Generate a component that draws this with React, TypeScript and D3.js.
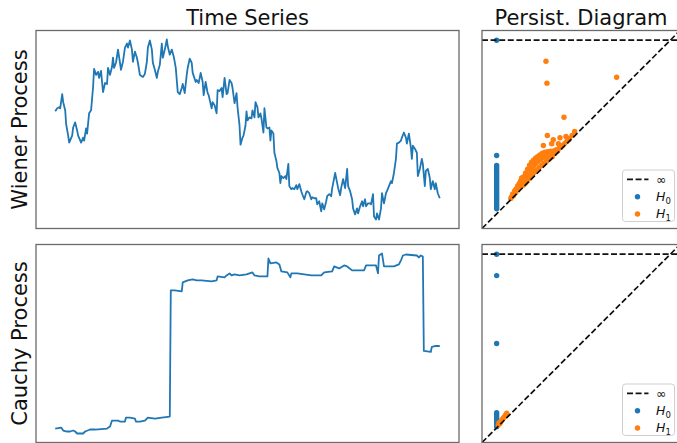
import React from "react";
import * as d3 from "d3";

const WIDTH = 677;
const HEIGHT = 443;
const BLUE = "#1f77b4";
const ORANGE = "#ff7f0e";
const FONT = "DejaVu Sans, Liberation Sans, sans-serif";

const ROW_LABELS = ["Wiener Process", "Cauchy Process"];
const COL_TITLES = ["Time Series", "Persist. Diagram"];

// Wiener process path: [step, value]
const WIENER: [number, number][] = [
  [0, 0], [2, 3], [4, 4], [5, 3], [7, 17], [8, 9], [10, 1], [11, -13], [13, -24], [14, -31],
  [17, -24], [18, -16], [20, -11], [22, -19], [23, -24], [26, -31], [28, -26], [29, -29], [31, -17], [32, -22],
  [34, -2], [36, 1], [38, 24], [39, 42], [41, 36], [43, 39], [44, 33], [46, 40], [47, 29], [48, 19],
  [50, 28], [52, 27], [53, 43], [55, 36], [57, 44], [58, 53], [59, 43], [61, 48], [63, 61], [65, 48],
  [66, 41], [68, 49], [70, 63], [72, 67], [73, 63], [75, 70], [77, 61], [78, 49], [80, 59], [82, 53],
  [83, 48], [85, 36], [88, 34], [90, 37], [92, 49], [93, 63], [95, 70], [97, 61], [98, 48], [100, 41],
  [102, 33], [103, 39], [105, 46], [107, 67], [108, 53], [110, 61], [112, 71], [113, 64], [115, 56], [117, 61],
  [119, 54], [121, 43], [123, 19], [125, 17], [127, 23], [128, 27], [130, 18], [132, 36], [133, 43], [135, 52],
  [137, 48], [138, 38], [141, 29], [142, 31], [144, 28], [146, 38], [148, 29], [149, 16], [151, 29], [153, 18],
  [154, 16], [157, 3], [158, 9], [160, 6], [162, -2], [163, 21], [165, 20], [167, 23], [168, 14], [170, 33],
  [172, 17], [173, 18], [175, 31], [177, 28], [178, 23], [180, 8], [182, 18], [183, 4], [185, -14], [186, -33],
  [188, -26], [189, -24], [191, -14], [192, 0], [193, -9], [195, -6], [197, -7], [198, 1], [200, -6], [201, 9],
  [203, 4], [204, -6], [206, -2], [207, -7], [209, -21], [210, 3], [212, -16], [213, -17], [215, -16], [216, -29],
  [217, -19], [219, -22], [220, -41], [222, -49], [223, -56], [225, -61], [226, -71], [227, -64], [229, -66], [231, -64],
  [232, -67], [234, -52], [235, -74], [237, -77], [238, -76], [240, -77], [242, -73], [243, -77], [245, -72], [247, -79],
  [248, -82], [250, -87], [252, -80], [253, -79], [255, -81], [257, -87], [258, -85], [260, -86], [262, -86], [263, -92],
  [265, -89], [267, -99], [268, -91], [270, -97], [272, -89], [273, -84], [275, -82], [277, -84], [278, -76], [279, -71],
  [281, -61], [283, -71], [284, -76], [286, -83], [287, -76], [289, -67], [291, -76], [293, -57], [294, -74], [296, -79],
  [298, -87], [299, -96], [301, -102], [303, -96], [304, -101], [306, -94], [308, -89], [309, -94], [311, -87], [312, -94],
  [314, -91], [316, -91], [317, -92], [319, -82], [320, -104], [322, -107], [323, -101], [325, -107], [327, -96], [328, -81],
  [330, -91], [332, -81], [333, -79], [335, -74], [337, -69], [338, -71], [340, -61], [342, -47], [343, -32], [345, -31],
  [347, -29], [348, -26], [350, -21], [352, -26], [353, -32], [355, -22], [357, -36], [358, -47], [359, -34], [361, -37],
  [363, -41], [364, -64], [366, -57], [368, -47], [369, -52], [371, -74], [372, -59], [374, -57], [376, -66], [377, -77],
  [379, -69], [381, -77], [382, -71], [384, -81], [386, -86],
];

// Cauchy process path: [step, value]
const CAUCHY: [number, number][] = [
  [0, 0], [6, 1], [8, -2], [12, -3], [15, -3], [18, -2], [20, -3], [22, -5], [28, -5], [30, -3],
  [35, -1], [40, -1], [52, 0], [55, 2], [57, 8], [63, 8], [65, 7], [70, 7], [71, 11], [75, 11],
  [80, 10], [81, 7], [85, 7], [90, 8], [93, 11], [100, 10], [107, 11], [115, 12], [116, 139], [120, 139],
  [127, 138], [128, 147], [133, 149], [138, 150], [142, 149], [147, 149], [157, 148], [162, 149], [163, 153], [170, 152],
  [172, 154], [175, 156], [177, 154], [180, 155], [185, 154], [192, 155], [198, 157], [200, 154], [205, 153], [210, 153],
  [213, 153], [214, 171], [216, 166], [222, 167], [225, 165], [227, 158], [233, 157], [236, 152], [237, 156], [243, 156],
  [257, 154], [267, 154], [270, 157], [278, 158], [280, 163], [285, 161], [290, 164], [293, 163], [298, 159], [305, 159],
  [310, 159], [312, 164], [322, 164], [324, 156], [325, 174], [328, 176], [330, 163], [340, 163], [345, 165], [347, 169],
  [349, 174], [352, 175], [363, 174], [365, 172], [367, 174], [369, 173], [370, 78], [377, 77], [378, 82], [382, 83],
  [386, 83],
];

// Persistence diagrams (birth, death), normalised filtration values
const INF_LEVEL = 0.951;

const WIENER_H0: [number, number][] = [
  [0.074, Infinity], [0.074, 0.369], [0.074, 0.318], [0.074, 0.31], [0.074, 0.3], [0.074, 0.29],
  [0.074, 0.28], [0.074, 0.27], [0.074, 0.26], [0.074, 0.25], [0.074, 0.24], [0.074, 0.23],
  [0.074, 0.22], [0.074, 0.21], [0.074, 0.2], [0.074, 0.19], [0.074, 0.18], [0.074, 0.17],
  [0.074, 0.16], [0.074, 0.15], [0.074, 0.14], [0.074, 0.13], [0.074, 0.12], [0.074, 0.11], [0.074, 0.1],
];

const WIENER_H1: [number, number][] = [
  [0.323, 0.845], [0.328, 0.734], [0.68, 0.764], [0.414, 0.562], [0.468, 0.49], [0.33, 0.47],
  [0.394, 0.458], [0.36, 0.448], [0.424, 0.465], [0.386, 0.428], [0.31, 0.419], [0.352, 0.428],
  [0.402, 0.418], [0.44, 0.455], [0.455, 0.47],
  [0.145, 0.152], [0.15, 0.16], [0.155, 0.175], [0.158, 0.165], [0.16, 0.17], [0.165, 0.19], [0.17, 0.182],
  [0.172, 0.2], [0.178, 0.195], [0.18, 0.215], [0.185, 0.205], [0.188, 0.228], [0.192, 0.212],
  [0.195, 0.24], [0.198, 0.222], [0.2, 0.255], [0.204, 0.235], [0.208, 0.218], [0.21, 0.262],
  [0.214, 0.245], [0.218, 0.228], [0.22, 0.28], [0.224, 0.258], [0.228, 0.24], [0.23, 0.3],
  [0.234, 0.272], [0.238, 0.252], [0.24, 0.32], [0.242, 0.29], [0.246, 0.262], [0.25, 0.335],
  [0.252, 0.305], [0.256, 0.275], [0.26, 0.345], [0.262, 0.318], [0.266, 0.285], [0.27, 0.355],
  [0.272, 0.33], [0.276, 0.296], [0.28, 0.362], [0.284, 0.34], [0.288, 0.308], [0.292, 0.372],
  [0.296, 0.35], [0.3, 0.318], [0.305, 0.38], [0.308, 0.358], [0.312, 0.33], [0.318, 0.385],
  [0.322, 0.365], [0.326, 0.34], [0.332, 0.388], [0.336, 0.372], [0.34, 0.352], [0.346, 0.39],
  [0.35, 0.375], [0.355, 0.362], [0.362, 0.392], [0.368, 0.38], [0.375, 0.398], [0.382, 0.392],
  [0.39, 0.405], [0.398, 0.41], [0.408, 0.42], [0.418, 0.43], [0.428, 0.44], [0.438, 0.448],
];

const CAUCHY_H0: [number, number][] = [
  [0.074, Infinity], [0.074, 0.843], [0.074, 0.5], [0.074, 0.15], [0.074, 0.14], [0.074, 0.13],
  [0.074, 0.12], [0.074, 0.11], [0.074, 0.1], [0.074, 0.09], [0.074, 0.08],
];

const CAUCHY_H1: [number, number][] = [
  [0.082, 0.088], [0.086, 0.1], [0.09, 0.096], [0.095, 0.105], [0.1, 0.112], [0.105, 0.12],
  [0.11, 0.126], [0.115, 0.132], [0.12, 0.14], [0.125, 0.148],
];

const LEGEND_LABELS = ["∞", "H", "H"];

// Layout
const TS_X0 = 36;
const TS_X1 = 459;
const PD_X0 = 482;
const SIZE = 198;
const ROW_Y0 = [30.5, 244.5];
const DASH = "6 2.6";

function padded(vals: number[]): [number, number] {
  const [lo, hi] = d3.extent(vals) as [number, number];
  const p = (hi - lo) * 0.05;
  return [lo - p, hi + p];
}

function TimeSeries({ data, y0, id }: { data: [number, number][]; y0: number; id: string }) {
  const x = d3.scaleLinear().domain(padded(data.map((d) => d[0]))).range([TS_X0, TS_X1]);
  const y = d3.scaleLinear().domain(padded(data.map((d) => d[1]))).range([y0 + SIZE, y0]);
  const line = d3.line<[number, number]>().x((d) => x(d[0])).y((d) => y(d[1]));
  return (
    <g>
      <clipPath id={id}>
        <rect x={TS_X0} y={y0} width={TS_X1 - TS_X0} height={SIZE} />
      </clipPath>
      <path d={line(data) || ""} fill="none" stroke={BLUE} strokeWidth={1.8} strokeLinejoin="round" clipPath={`url(#${id})`} />
      <rect x={TS_X0} y={y0} width={TS_X1 - TS_X0} height={SIZE} fill="none" stroke="#6a6a6a" strokeWidth={1.3} />
    </g>
  );
}

function Diagram({ h0, h1, y0, id }: { h0: [number, number][]; h1: [number, number][]; y0: number; id: string }) {
  const x = d3.scaleLinear().domain([0, 1]).range([PD_X0, PD_X0 + SIZE]);
  const y = d3.scaleLinear().domain([0, 1]).range([y0 + SIZE, y0]);
  const death = (d: number) => (Number.isFinite(d) ? d : INF_LEVEL);
  const diag = d3.line<number>().x((d) => x(d)).y((d) => y(d));
  const lx = PD_X0 + SIZE - 57.5;
  const ly = y0 + SIZE - 58.5;
  return (
    <g fontFamily={FONT}>
      <clipPath id={id}>
        <rect x={PD_X0} y={y0} width={SIZE} height={SIZE} />
      </clipPath>
      <g clipPath={`url(#${id})`}>
        {h0.map((d, i) => (
          <circle key={`a${i}`} cx={x(d[0])} cy={y(death(d[1]))} r={2.7} fill={BLUE} />
        ))}
        {h1.map((d, i) => (
          <circle key={`b${i}`} cx={x(d[0])} cy={y(death(d[1]))} r={2.7} fill={ORANGE} />
        ))}
        <path d={diag([0, 1]) || ""} stroke="#111" strokeWidth={1.7} strokeDasharray={DASH} fill="none" />
        <line x1={x(0)} x2={x(1)} y1={y(INF_LEVEL)} y2={y(INF_LEVEL)} stroke="#111" strokeWidth={1.7} strokeDasharray={DASH} />
      </g>
      <rect x={PD_X0} y={y0} width={SIZE} height={SIZE} fill="none" stroke="#6a6a6a" strokeWidth={1.3} />
      {/* legend */}
      <rect x={lx} y={ly} width={52} height={51.5} rx={3} fill="white" fillOpacity={0.8} stroke="#cfcfcf" strokeWidth={1} />
      <line x1={lx + 4.5} x2={lx + 26} y1={ly + 9.3} y2={ly + 9.3} stroke="#111" strokeWidth={1.7} strokeDasharray={DASH} />
      <text x={lx + 33.5} y={ly + 13.5} fontSize={12.5} fill="#111">{LEGEND_LABELS[0]}</text>
      <circle cx={lx + 15} cy={ly + 26.7} r={2.7} fill={BLUE} />
      <text x={lx + 33.5} y={ly + 31} fontSize={12.5} fill="#111">
        <tspan fontStyle="italic">{LEGEND_LABELS[1]}</tspan>
        <tspan fontSize={8.5} dy={2.5}>0</tspan>
      </text>
      <circle cx={lx + 15} cy={ly + 44} r={2.7} fill={ORANGE} />
      <text x={lx + 33.5} y={ly + 48.3} fontSize={12.5} fill="#111">
        <tspan fontStyle="italic">{LEGEND_LABELS[2]}</tspan>
        <tspan fontSize={8.5} dy={2.5}>1</tspan>
      </text>
    </g>
  );
}

export default function App() {
  return (
    <svg
      width={WIDTH}
      height={HEIGHT}
      viewBox={`0 0 ${WIDTH} ${HEIGHT}`}
      style={{ position: "absolute", left: 0, top: 0, background: "white" }}
    >
      <rect x={0} y={0} width={WIDTH} height={HEIGHT} fill="white" />
      <text x={(TS_X0 + TS_X1) / 2} y={25} textAnchor="middle" fontFamily={FONT} fontSize={21} fill="#111">
        {COL_TITLES[0]}
      </text>
      <text x={PD_X0 + SIZE / 2} y={25} textAnchor="middle" fontFamily={FONT} fontSize={21} fill="#111">
        {COL_TITLES[1]}
      </text>
      {ROW_LABELS.map((label, i) => (
        <text
          key={label}
          transform={`translate(27, ${ROW_Y0[i] + SIZE / 2}) rotate(-90)`}
          textAnchor="middle"
          fontFamily={FONT}
          fontSize={21}
          fill="#111"
        >
          {label}
        </text>
      ))}
      <TimeSeries data={WIENER} y0={ROW_Y0[0]} id="clip-ts-0" />
      <TimeSeries data={CAUCHY} y0={ROW_Y0[1]} id="clip-ts-1" />
      <Diagram h0={WIENER_H0} h1={WIENER_H1} y0={ROW_Y0[0]} id="clip-pd-0" />
      <Diagram h0={CAUCHY_H0} h1={CAUCHY_H1} y0={ROW_Y0[1]} id="clip-pd-1" />
    </svg>
  );
}
